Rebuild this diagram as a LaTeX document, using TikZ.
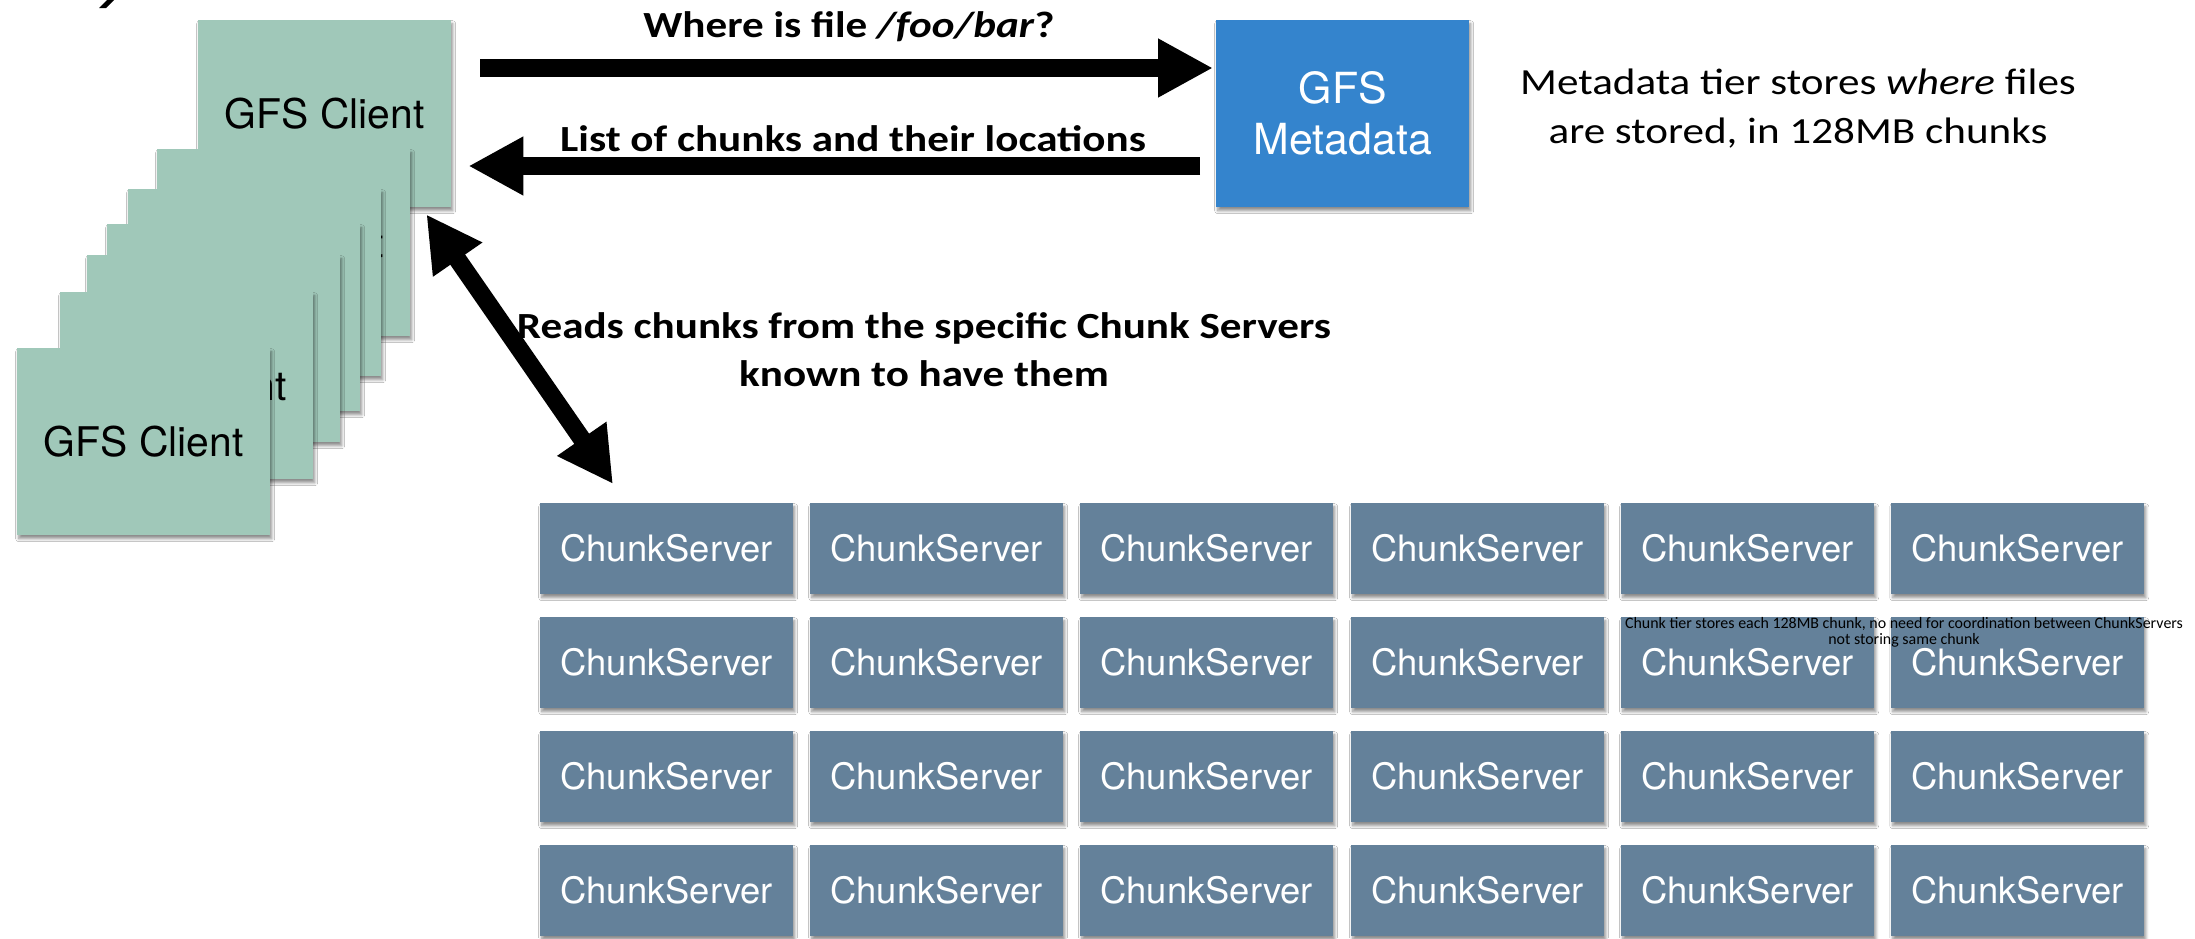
\documentclass[tikz,border=0pt]{standalone}
\usepackage{fontspec}
\setmainfont{TeX Gyre Heros}
\newfontfamily\lab[FakeStretch=1.17]{Carlito}
\newfontfamily\labn{Carlito}
\newfontfamily\hel{TeX Gyre Heros}
\usetikzlibrary{arrows.meta,shadows.blur,calc}
\definecolor{clientc}{HTML}{A0C8B9}
\definecolor{metac}{HTML}{3484CD}
\definecolor{chunkc}{HTML}{64819A}
\begin{document}
\begin{tikzpicture}[x=1bp,y=-1bp,
  shd/.style={blur shadow={shadow xshift=1.5bp, shadow yshift=-3.5bp, shadow blur steps=6, shadow blur radius=3bp, shadow opacity=45}},
  card/.style={shd, fill=clientc, draw=none, minimum width=253bp, minimum height=187bp, anchor=north west, inner sep=0pt, text=black, font=\hel\fontsize{41}{47}\selectfont},
  metabox/.style={shd, fill=metac, draw=none, minimum width=253bp, minimum height=187bp, anchor=north west, inner sep=0pt, text=white, align=center, font=\hel\fontsize{43}{51}\selectfont},
  chunkbox/.style={shd, fill=chunkc, draw=none, minimum width=253bp, minimum height=91bp, anchor=north west, inner sep=0pt, text=white, font=\hel\fontsize{36.5}{42}\selectfont},
  bigarrow/.style={line width=18bp, -{Triangle[length=55bp,width=55bp]}},
  dblarrow/.style={line width=18bp, {Triangle[length=55bp,width=56bp]}-{Triangle[length=55bp,width=56bp]}},
  boldlab/.style={inner sep=0pt, anchor=base, font=\lab\bfseries\fontsize{37}{48}\selectfont, align=center},
  plainlab/.style={inner sep=0pt, anchor=base, font=\lab\fontsize{37}{49}\selectfont, align=center},
  tinylab/.style={inner sep=0pt, anchor=base, font=\labn\fontsize{16}{15.5}\selectfont, align=center}
]
\useasboundingbox[fill=white] (0,0) rectangle (2195,938);

% fragment of a glyph at the top-left corner
\fill[black] (99,8) -- (106,8) -- (114,0) -- (107,0) -- cycle;

% stacked clients (back to front)
\node[card] (c1) at (198,20) {GFS Client};
\node[card] (c2) at (157,149) {GFS Client};
\node[card] (c3) at (128,189) {GFS Client};
\node[card] (c4) at (107,224) {GFS Client};
\node[card] (c5) at (87,255) {GFS Client};
\node[card] (c6) at (60,292) {GFS Client};
\node[card] (c7) at (17,348) {GFS Client};

% metadata
\node[metabox] (meta) at (1216,20) {GFS\\Metadata};

% chunk servers
\foreach \r [count=\ri] in {503,617,731,845}{
  \foreach \c [count=\ci] in {540,810,1080,1351,1621,1891}{
    \node[chunkbox] (cs\ri\ci) at (\c,\r) {ChunkServer};
  }
}

% arrows
\draw[bigarrow] ($(c1.north east)+(29,48)$) -- ($(meta.north west)+(-3,48)$);
\draw[bigarrow] ($(meta.north west)+(-16,146)$) -- ($(c1.north east)+(17,146)$);
\draw[dblarrow] ($(c1.south east)+(-25,7)$) -- ($(cs11.north west)+(73,-19)$);

% labels
\node[boldlab] (l1) at (849,37) {Where is file \textit{/foo/bar}?};
\node[boldlab] (l2) at (853,151) {List of chunks and their locations};
\node[boldlab] (l3) at (924,386) {Reads chunks from the specific Chunk Servers\\known to have them};
\node[plainlab] (l4) at (1798,143) {Metadata tier stores \textit{where} files\\are stored, in 128MB chunks};
\node[tinylab] (l5) at (1904,644) {Chunk tier stores each 128MB chunk, no need for coordination between ChunkServers\\not storing same chunk};
\end{tikzpicture}
\end{document}
